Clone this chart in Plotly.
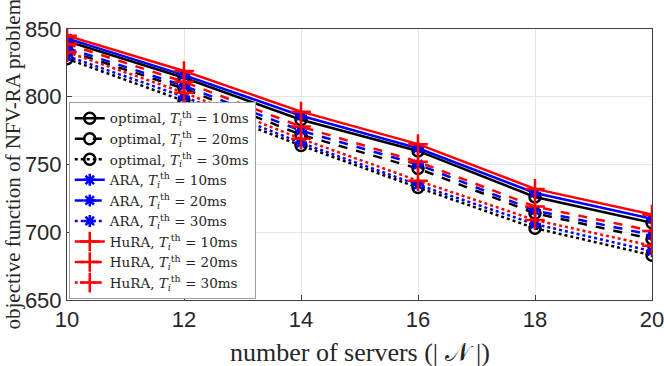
import plotly.graph_objects as go

servers = [10, 12, 14, 16, 18, 20]

opt_10 = [841, 814, 783, 760, 726, 707]
opt_20 = [834, 806, 772, 747, 714, 695]
opt_30 = [828, 797, 764, 733, 703, 683]
ara_10 = [843, 816, 786, 762, 729, 710]
ara_20 = [836, 808, 775, 750, 716, 698]
ara_30 = [830, 800, 766, 735, 706, 686]
hura_10 = [845, 819, 789, 765, 732, 713]
hura_20 = [839, 811, 778, 752, 719, 701]
hura_30 = [833, 803, 769, 738, 709, 690]

thresholds = ["10", "20", "30"]
dashes = ["solid", "dash", "dot"]

SERIF = "DejaVu Serif, Liberation Serif, serif"
TITLE_SERIF = "Liberation Serif, DejaVu Serif, serif"
TEXT = "#262626"


def label(name, t):
    return f"{name}, <i>T</i><sub><i>i</i></sub><sup>th</sup> = {t}ms"


groups = [
    ("optimal", [opt_10, opt_20, opt_30], "black",
     dict(symbol="circle-open", size=11, line=dict(width=2.5, color="black"))),
    ("ARA", [ara_10, ara_20, ara_30], "blue",
     dict(symbol="asterisk-open", size=10, line=dict(width=2.5, color="blue"))),
    ("HuRA", [hura_10, hura_20, hura_30], "red",
     dict(symbol="cross-thin-open", size=14, line=dict(width=2.5, color="red"))),
]

fig = go.Figure()
for name, series, color, marker in groups:
    for vals, t, dash in zip(series, thresholds, dashes):
        fig.add_trace(go.Scatter(
            x=servers, y=vals, mode="lines+markers", name=label(name, t),
            line=dict(color=color, width=2.5, dash=dash),
            marker=marker,
        ))

axis_common = dict(
    showline=True, linecolor="#404040", linewidth=1, mirror=True,
    ticks="inside", ticklen=5, tickcolor="#404040",
    showgrid=True, gridcolor="#e6e6e6", gridwidth=1, zeroline=False,
    automargin=False, ticklabeloverflow="allow",
    tickfont=dict(family="Liberation Sans, Arial, sans-serif", size=22, color=TEXT),
)

fig.update_xaxes(range=[10, 20], tickvals=servers, **axis_common)
fig.update_yaxes(range=[650, 850], tickvals=[650, 700, 750, 800, 850], **axis_common)

# axis titles as annotations so they sit exactly where the original puts them
fig.add_annotation(
    text="number of servers (| 𝒩 |)", xref="paper", yref="paper",
    x=0.5, y=0, yshift=-52, yanchor="middle", showarrow=False,
    font=dict(family=TITLE_SERIF, size=26, color=TEXT),
)
fig.add_annotation(
    text="objective function of NFV-RA problem", xref="paper", yref="paper",
    x=0, xshift=-55, y=0.5, xanchor="center", textangle=-90, showarrow=False,
    font=dict(family=TITLE_SERIF, size=21, color=TEXT),
)

fig.update_layout(
    width=664, height=366,
    margin=dict(l=67, r=12, t=29, b=66),
    plot_bgcolor="white", paper_bgcolor="white",
    legend=dict(
        x=0.003, y=0.004, xanchor="left", yanchor="bottom",
        bgcolor="white", bordercolor="#a0a0a0", borderwidth=1,
        font=dict(family=SERIF, size=13.5, color=TEXT),
        tracegroupgap=0, itemwidth=30,
    ),
)

# drop the default 8px body margin so the figure fills the window
fig.write_html(
    "out.html",
    config={"displayModeBar": False},
    post_script="document.body.style.margin='0';",
)
